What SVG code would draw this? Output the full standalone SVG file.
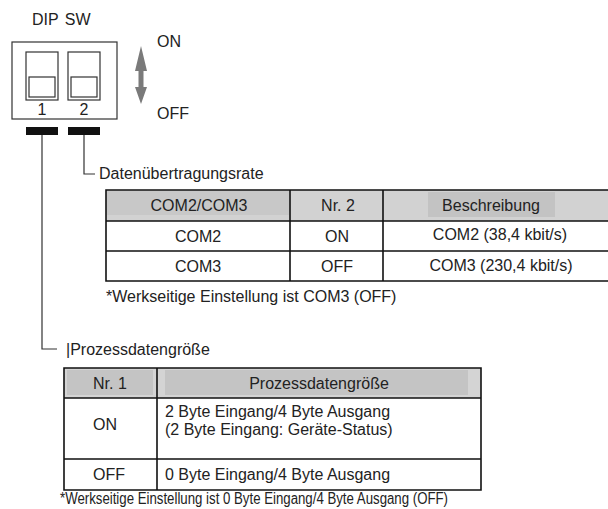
<svg xmlns="http://www.w3.org/2000/svg" width="608" height="509" viewBox="0 0 608 509">
<style>
text{font-family:"Liberation Sans",Arial,sans-serif;font-size:16px;fill:#222}
.c{text-anchor:middle}
.ln{fill:none;stroke:#333;stroke-width:1.2}
.tb{fill:none;stroke:#111;stroke-width:1.6}
.sw{fill:#fff;stroke:#333;stroke-width:1.2}
</style>
<rect width="608" height="509" fill="#fff"/>
<g id="dipsw">
<text x="32" y="25" word-spacing="2">DIP SW</text>
<rect class="sw" x="12" y="42" width="105" height="77"/>
<rect class="sw" x="26" y="52" width="32" height="48"/>
<rect class="sw" x="29" y="77" width="26" height="20"/>
<rect class="sw" x="68" y="52" width="32" height="48"/>
<rect class="sw" x="71" y="77" width="26" height="20"/>
<text class="c" x="42" y="115">1</text>
<text class="c" x="84" y="115">2</text>
<rect x="26" y="127" width="32" height="8" fill="#111"/>
<rect x="68" y="127" width="32" height="8" fill="#111"/>
</g>
<g id="arrow">
<polygon points="141,46 147,71 143.5,71 143.5,87 147,87 141,104 135,87 138.5,87 138.5,71 135,71" fill="#7a7a7a"/>
<text x="157" y="47">ON</text>
<text x="157" y="119">OFF</text>
</g>
<g id="connectors">
<polyline class="ln" points="42,135 42,349 57,349"/>
<polyline class="ln" points="84,135 84,174 95,174"/>
</g>
<g id="table1">
<text x="99" y="179">Datenübertragungsrate</text>
<rect x="106" y="190" width="504" height="31" fill="#d2d2d2"/>
<rect x="107" y="191" width="182" height="24" fill="#c8c8c8"/>
<rect x="428" y="192" width="127" height="25" fill="#c3c3c3"/>
<path class="tb" d="M610,190 H106 V281 H610 M106,221 H610 M106,251 H610 M290,190 V281 M383,190 V281"/>
<text class="c" x="199" y="211">COM2/COM3</text>
<text class="c" x="338" y="211">Nr. 2</text>
<text class="c" x="491" y="211">Beschreibung</text>
<text class="c" x="198" y="242">COM2</text>
<text class="c" x="337" y="242">ON</text>
<text class="c" x="500" y="240">COM2 (38,4 kbit/s)</text>
<text class="c" x="198" y="272">COM3</text>
<text class="c" x="337" y="272">OFF</text>
<text class="c" x="501" y="271">COM3 (230,4 kbit/s)</text>
<text x="106" y="302">*Werkseitige Einstellung ist COM3 (OFF)</text>
</g>
<g id="table2">
<text x="66" y="355">|Prozessdatengröße</text>
<rect x="64" y="368" width="417" height="30" fill="#d4d4d4"/>
<rect x="67" y="370" width="86" height="25" fill="#c4c4c4"/>
<rect x="165" y="370" width="303" height="25" fill="#c4c4c4"/>
<path class="tb" d="M64,368 H481 V490 H64 Z M64,398 H481 M64,459 H481 M157,368 V490"/>
<text x="93" y="389">Nr. 1</text>
<text class="c" x="319" y="389">Prozessdatengröße</text>
<text x="93" y="430">ON</text>
<text x="165" y="417">2 Byte Eingang/4 Byte Ausgang</text>
<text x="165" y="435">(2 Byte Eingang: Geräte-Status)</text>
<text x="93" y="480">OFF</text>
<text x="165" y="480">0 Byte Eingang/4 Byte Ausgang</text>
<text x="60" y="504" textLength="388" lengthAdjust="spacingAndGlyphs">*Werkseitige Einstellung ist 0 Byte Eingang/4 Byte Ausgang (OFF)</text>
</g>
</svg>
